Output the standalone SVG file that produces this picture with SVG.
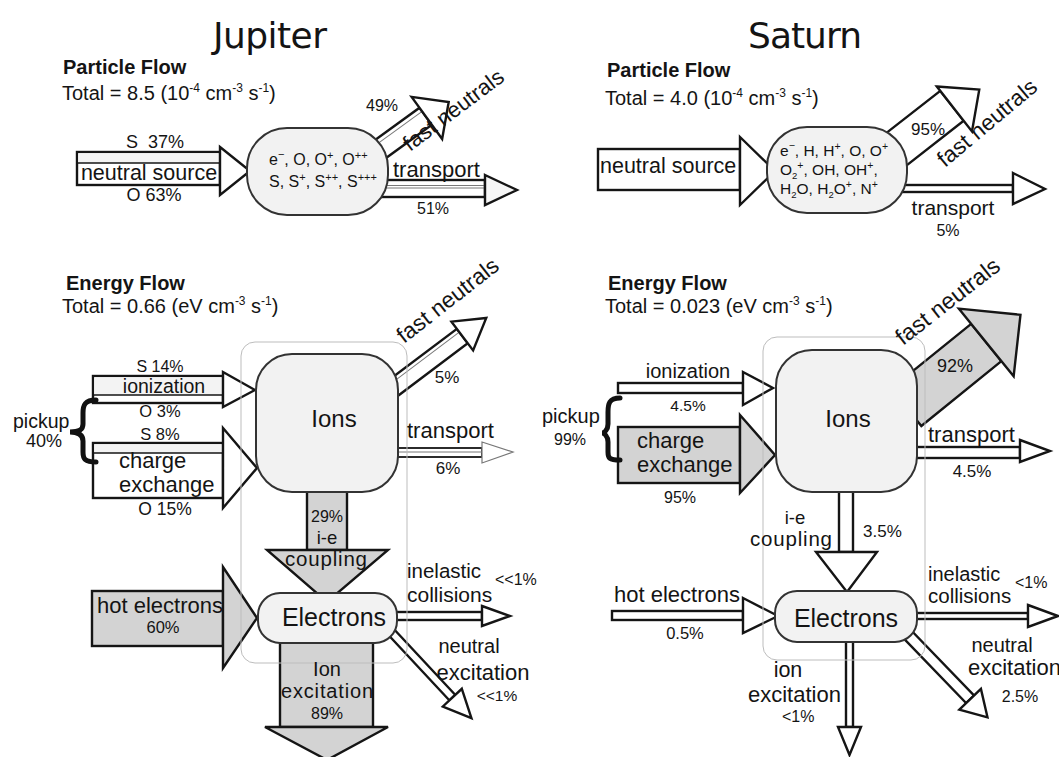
<svg xmlns="http://www.w3.org/2000/svg" width="1059" height="757" viewBox="0 0 1059 757">
<style>
.t{font-family:"Liberation Sans",Arial,sans-serif;fill:#141414}
.b{font-weight:bold}
.ti{font-family:"DejaVu Sans","Open Sans",sans-serif;fill:#141414}
.a{fill:#fff;stroke:#151515;stroke-width:2.4;stroke-linejoin:miter}
.g{fill:#d3d3d3}
.lt{fill:#f3f3f3}
.in{stroke:#777;stroke-width:1;fill:none}
.node{fill:#f2f2f2;stroke:#333;stroke-width:2}
.frame{fill:none;stroke:#bdbdbd;stroke-width:1}
.brace{fill:none;stroke:#111;stroke-width:5;stroke-linecap:round}
.thin{fill:#fff;stroke:#777;stroke-width:1.2}
</style>
<rect width="1059" height="757" fill="#fff"/>

<text class="ti" x="213" y="48" font-size="36" textLength="114">Jupiter</text>
<text class="ti" x="748" y="48" font-size="36" textLength="114">Saturn</text>

<g id="connectors">
  <!-- Jupiter particle -->
  <g id="j-neutral-source">
    <rect class="a" x="77" y="152" width="143" height="33"/>
    <rect class="lt" x="78.2" y="153.2" width="140.6" height="9.8"/>
    <line x1="77" y1="163" x2="220" y2="163" stroke="#151515" stroke-width="1.6"/>
    <polygon class="a" points="220,147 250,171 220,195"/>
  </g>
  <g id="j-p-fast" transform="translate(382,148) rotate(-36)">
    <rect class="a" x="-12" y="-10.5" width="66" height="21"/>
    <line class="in" x1="-12" y1="-6" x2="54" y2="-6"/>
    <polygon class="a" points="54,-24 81,2 54,28"/>
  </g>
  <g id="j-p-transport">
    <rect class="a" x="380" y="180" width="105" height="17"/>
    <line class="in" x1="380" y1="185.5" x2="485" y2="185.5"/>
    <line class="in" x1="380" y1="188" x2="485" y2="188"/>
    <polygon class="a" points="485,175 517,190 485,205" style="fill:#f6f6f6"/>
  </g>
  <!-- Saturn particle -->
  <g id="s-neutral-source">
    <rect class="a" x="598" y="149" width="142" height="41"/>
    <polygon class="a" points="740,137 775,171 740,205"/>
  </g>
  <g id="s-p-fast" transform="translate(898,148) rotate(-38)">
    <rect class="a" x="-12" y="-19" width="80.5" height="38"/>
    <polygon class="a" points="68.5,-24.5 100,4 68.5,32.5"/>
  </g>
  <g id="s-p-transport">
    <rect class="a" x="900" y="185" width="113" height="7"/>
    <polygon class="a" points="1013,173 1045,189 1013,204"/>
  </g>

  <!-- Jupiter energy -->
  <g id="j-ionization">
    <rect class="a" x="93" y="376" width="130" height="27"/>
    <rect class="lt" x="94.2" y="377.2" width="127.6" height="17.8"/>
    <line x1="93" y1="395" x2="223" y2="395" stroke="#151515" stroke-width="1.6"/>
    <polygon class="a" points="223,372 255,390 223,407"/>
  </g>
  <g id="j-charge-exchange">
    <rect class="a" x="93" y="443" width="130" height="55"/>
    <rect class="lt" x="94.2" y="444.2" width="127.6" height="8.8"/>
    <line x1="93" y1="453" x2="223" y2="453" stroke="#151515" stroke-width="1.6"/>
    <polygon class="a" points="223,428 257,468 223,508"/>
  </g>
  <g id="j-e-fast" transform="translate(396,386) rotate(-37)">
    <rect class="a" x="-10" y="-9" width="93" height="18"/>
    <line class="in" x1="-10" y1="-5" x2="83" y2="-5"/>
    <polygon class="a" points="83,-18 113,0 83,18"/>
  </g>
  <g id="j-e-transport">
    <rect class="a" x="392" y="448" width="90" height="9" style="stroke-width:1.8"/>
    <line class="in" x1="392" y1="452" x2="482" y2="452"/>
    <polygon class="thin" points="482,442 513,452 482,463"/>
  </g>
  <g id="j-ie-coupling">
    <rect class="a g" x="307" y="488" width="40" height="62"/>
    <polygon class="a g" points="267,550 388,550 327,602"/>
  </g>
  <g id="j-hot-electrons">
    <rect class="a g" x="92" y="591" width="131" height="55"/>
    <polygon class="a g" points="223,567 257,618 223,668"/>
  </g>
  <g id="j-inelastic">
    <rect class="a" x="392" y="612" width="90" height="8"/>
    <polygon class="a" points="482,606 510,616 482,626"/>
  </g>
  <g id="j-neutral-exc" transform="translate(393,634) rotate(47)">
    <rect class="a" x="-6" y="-4" width="93" height="8"/>
    <polygon class="a" points="87,-13 115,0 87,13"/>
  </g>
  <g id="j-ion-exc">
    <rect class="a g" x="280" y="638" width="93" height="89"/>
    <polygon class="a g" points="265,727 388,727 327,760"/>
  </g>

  <!-- Saturn energy -->
  <g id="s-ionization">
    <rect class="a" x="618" y="383" width="125" height="10"/>
    <polygon class="a" points="743,372 773,388 743,405"/>
  </g>
  <g id="s-charge-exchange">
    <rect class="a g" x="618" y="427" width="122" height="56"/>
    <polygon class="a g" points="740,415 775,455 740,493"/>
  </g>
  <g id="s-e-fast" transform="translate(914,401) rotate(-39)">
    <rect class="a g" x="-10" y="-24" width="103" height="48"/>
    <polygon class="a g" points="93,-43.5 137,0 93,43.5"/>
  </g>
  <g id="s-e-transport">
    <rect class="a" x="912" y="447" width="108" height="11"/>
    <polygon class="a" points="1020,440 1050,451 1020,462"/>
  </g>
  <g id="s-ie-coupling">
    <rect class="a" x="839" y="488" width="14" height="64"/>
    <polygon class="a" points="816,552 877,552 847,592"/>
  </g>
  <g id="s-hot-electrons">
    <rect class="a" x="612" y="611" width="131" height="9"/>
    <polygon class="a" points="743,598 778,616 743,633"/>
  </g>
  <g id="s-inelastic">
    <rect class="a" x="912" y="613" width="116" height="6"/>
    <polygon class="a" points="1028,605 1058,616 1028,627"/>
  </g>
  <g id="s-neutral-exc" transform="translate(909,636) rotate(46)">
    <rect class="a" x="-6" y="-5.5" width="94" height="11"/>
    <polygon class="a" points="88,-15 113,0 88,15"/>
  </g>
  <g id="s-ion-exc">
    <rect class="a" x="846" y="638" width="7" height="89"/>
    <polygon class="a" points="838,727 861,727 849.5,755"/>
  </g>

  <path class="brace" d="M96,400 C85,400 83,405 83,413 L83,424 C83,430 79,432 70,432 C79,432 83,435 83,441 L83,452 C83,459 85,462 96,462"/>
  <path class="brace" d="M620,398 C609,398 608,404 608,412 L608,424 C608,430 604,433 602,433 C604,433 608,436 608,442 L608,452 C608,458 609,460 620,460"/>
</g>

<g id="frames">
  <rect id="j-frame" class="frame" x="241" y="342" width="166" height="321" rx="14"/>
  <rect id="s-frame" class="frame" x="763" y="337" width="162" height="323" rx="14"/>
</g>

<g id="j-particle-pool">
  <rect class="node" x="247" y="128" width="141" height="87" rx="40"/>
  <text class="t" x="269" y="165" font-size="16">e<tspan font-size="11" dy="-7">−</tspan><tspan dy="7">, O, O</tspan><tspan font-size="11" dy="-6">+</tspan><tspan dy="6">, O</tspan><tspan font-size="11" dy="-6">++</tspan></text>
  <text class="t" x="269" y="187" font-size="16">S, S<tspan font-size="11" dy="-6">+</tspan><tspan dy="6">, S</tspan><tspan font-size="11" dy="-6">++</tspan><tspan dy="6">, S</tspan><tspan font-size="11" dy="-6">+++</tspan></text>
</g>
<g id="s-particle-pool">
  <rect class="node" x="767" y="127" width="140" height="86" rx="40"/>
  <text class="t" x="780" y="156" font-size="15.5">e<tspan font-size="10.5" dy="-7">−</tspan><tspan dy="7">, H, H</tspan><tspan font-size="10.5" dy="-6">+</tspan><tspan dy="6">, O, O</tspan><tspan font-size="10.5" dy="-6">+</tspan></text>
  <text class="t" x="780" y="175" font-size="15.5">O<tspan font-size="9.5" dy="4">2</tspan><tspan font-size="10.5" dy="-10">+</tspan><tspan dy="6">, OH, OH</tspan><tspan font-size="10.5" dy="-6">+</tspan><tspan dy="6">,</tspan></text>
  <text class="t" x="780" y="194" font-size="15.5">H<tspan font-size="9.5" dy="4">2</tspan><tspan dy="-4">O, H</tspan><tspan font-size="9.5" dy="4">2</tspan><tspan dy="-4">O</tspan><tspan font-size="10.5" dy="-6">+</tspan><tspan dy="6">, N</tspan><tspan font-size="10.5" dy="-6">+</tspan></text>
</g>

<g id="j-ions"><rect class="node" x="256" y="354" width="142" height="138" rx="36"/><text class="t" x="334" y="427" font-size="24" text-anchor="middle">Ions</text></g>
<g id="j-electrons"><rect class="node" x="258" y="593" width="139" height="50" rx="22"/><text class="t" x="334" y="626" font-size="25" text-anchor="middle">Electrons</text></g>
<g id="s-ions"><rect class="node" x="776" y="350" width="141" height="142" rx="36"/><text class="t" x="848" y="427" font-size="24" text-anchor="middle">Ions</text></g>
<g id="s-electrons"><rect class="node" x="775" y="591" width="142" height="51" rx="22"/><text class="t" x="846" y="627" font-size="25" text-anchor="middle">Electrons</text></g>

<g id="labels">
  <!-- Jupiter particle -->
  <text class="t b" x="63" y="74" font-size="20">Particle Flow</text>
  <text class="t" x="62" y="100" font-size="20">Total = 8.5 (10<tspan font-size="12" dy="-8">-4</tspan><tspan dy="8"> cm</tspan><tspan font-size="12" dy="-8">-3</tspan><tspan dy="8"> s</tspan><tspan font-size="12" dy="-8">-1</tspan><tspan dy="8">)</tspan></text>
  <text class="t" x="155" y="148" font-size="18" text-anchor="middle" xml:space="preserve">S  37%</text>
  <text class="t" x="149" y="180" font-size="21.5" text-anchor="middle">neutral source</text>
  <text class="t" x="154" y="201" font-size="18" text-anchor="middle">O 63%</text>
  <text class="t" x="382" y="111" font-size="16" text-anchor="middle">49%</text>
  <text class="t" x="410" y="152" font-size="22" transform="rotate(-37 410 152)">fast neutrals</text>
  <text class="t" x="393" y="177" font-size="22">transport</text>
  <text class="t" x="433" y="214" font-size="16" text-anchor="middle">51%</text>

  <!-- Saturn particle -->
  <text class="t b" x="607" y="77" font-size="20">Particle Flow</text>
  <text class="t" x="605" y="105" font-size="20">Total = 4.0 (10<tspan font-size="12" dy="-8">-4</tspan><tspan dy="8"> cm</tspan><tspan font-size="12" dy="-8">-3</tspan><tspan dy="8"> s</tspan><tspan font-size="12" dy="-8">-1</tspan><tspan dy="8">)</tspan></text>
  <text class="t" x="600" y="173" font-size="21.5">neutral source</text>
  <text class="t" x="928" y="135" font-size="17" text-anchor="middle">95%</text>
  <text class="t" x="945" y="168" font-size="22.5" transform="rotate(-40 945 168)">fast neutrals</text>
  <text class="t" x="953" y="215" font-size="21" text-anchor="middle">transport</text>
  <text class="t" x="948" y="236" font-size="16" text-anchor="middle">5%</text>

  <!-- Jupiter energy -->
  <text class="t b" x="66" y="290" font-size="20">Energy Flow</text>
  <text class="t" x="62" y="313" font-size="20">Total = 0.66 (eV cm<tspan font-size="12" dy="-8">-3</tspan><tspan dy="8"> s</tspan><tspan font-size="12" dy="-8">-1</tspan><tspan dy="8">)</tspan></text>
  <text class="t" x="160" y="372" font-size="16" text-anchor="middle">S 14%</text>
  <text class="t" x="164" y="393" font-size="19.5" text-anchor="middle">ionization</text>
  <text class="t" x="160" y="417" font-size="16.5" text-anchor="middle">O 3%</text>
  <text class="t" x="160" y="440" font-size="16.5" text-anchor="middle">S 8%</text>
  <text class="t" x="119" y="468" font-size="22">charge</text>
  <text class="t" x="119" y="492" font-size="22">exchange</text>
  <text class="t" x="165" y="515" font-size="17.5" text-anchor="middle">O 15%</text>
  <text class="t" x="13" y="428" font-size="19.5">pickup</text>
  <text class="t" x="44" y="447" font-size="18" text-anchor="middle">40%</text>
  <text class="t" x="404" y="344" font-size="22.5" transform="rotate(-38 404 344)">fast neutrals</text>
  <text class="t" x="447" y="383" font-size="17" text-anchor="middle">5%</text>
  <text class="t" x="407" y="438" font-size="22">transport</text>
  <text class="t" x="448" y="474" font-size="17" text-anchor="middle">6%</text>
  <text class="t" x="327" y="522" font-size="16" text-anchor="middle">29%</text>
  <text class="t" x="327" y="544" font-size="18.5" text-anchor="middle">i-e</text>
  <text class="t" x="326" y="566" font-size="20.5" text-anchor="middle" textLength="82">coupling</text>
  <text class="t" x="97" y="613" font-size="22">hot electrons</text>
  <text class="t" x="163" y="633" font-size="16.5" text-anchor="middle">60%</text>
  <text class="t" x="407" y="578" font-size="20.5">inelastic</text>
  <text class="t" x="407" y="602" font-size="21">collisions</text>
  <text class="t" x="495" y="585" font-size="16">&lt;&lt;1%</text>
  <text class="t" x="469" y="653" font-size="20" text-anchor="middle">neutral</text>
  <text class="t" x="483" y="680" font-size="22" text-anchor="middle">excitation</text>
  <text class="t" x="497" y="701" font-size="15.5" text-anchor="middle">&lt;&lt;1%</text>
  <text class="t" x="327" y="676" font-size="20" text-anchor="middle">Ion</text>
  <text class="t" x="327" y="698" font-size="20" text-anchor="middle" textLength="92">excitation</text>
  <text class="t" x="327" y="719" font-size="16" text-anchor="middle">89%</text>

  <!-- Saturn energy -->
  <text class="t b" x="608" y="290" font-size="20">Energy Flow</text>
  <text class="t" x="605" y="313" font-size="20">Total = 0.023 (eV cm<tspan font-size="12" dy="-8">-3</tspan><tspan dy="8"> s</tspan><tspan font-size="12" dy="-8">-1</tspan><tspan dy="8">)</tspan></text>
  <text class="t" x="688" y="378" font-size="20" text-anchor="middle">ionization</text>
  <text class="t" x="688" y="411" font-size="15.5" text-anchor="middle">4.5%</text>
  <text class="t" x="637" y="448" font-size="22">charge</text>
  <text class="t" x="637" y="472" font-size="22">exchange</text>
  <text class="t" x="680" y="503" font-size="16" text-anchor="middle">95%</text>
  <text class="t" x="542" y="423" font-size="20">pickup</text>
  <text class="t" x="570" y="445" font-size="16" text-anchor="middle">99%</text>
  <text class="t" x="903" y="346" font-size="23" transform="rotate(-38 903 346)">fast neutrals</text>
  <text class="t" x="955" y="372" font-size="18" text-anchor="middle">92%</text>
  <text class="t" x="928" y="442" font-size="22">transport</text>
  <text class="t" x="972" y="477" font-size="17" text-anchor="middle">4.5%</text>
  <text class="t" x="795" y="524" font-size="18.5" text-anchor="middle">i-e</text>
  <text class="t" x="791" y="546" font-size="20.5" text-anchor="middle" textLength="82">coupling</text>
  <text class="t" x="863" y="537" font-size="17">3.5%</text>
  <text class="t" x="614" y="602" font-size="22">hot electrons</text>
  <text class="t" x="685" y="639" font-size="16.5" text-anchor="middle">0.5%</text>
  <text class="t" x="928" y="581" font-size="20">inelastic</text>
  <text class="t" x="928" y="603" font-size="20.5">collisions</text>
  <text class="t" x="1015" y="588" font-size="16">&lt;1%</text>
  <text class="t" x="1002" y="652" font-size="20" text-anchor="middle">neutral</text>
  <text class="t" x="968" y="675" font-size="22">excitation</text>
  <text class="t" x="1020" y="702" font-size="16" text-anchor="middle">2.5%</text>
  <text class="t" x="788" y="677" font-size="21.5" text-anchor="middle">ion</text>
  <text class="t" x="748" y="702" font-size="22">excitation</text>
  <text class="t" x="782" y="722" font-size="16">&lt;1%</text>
</g>
</svg>
